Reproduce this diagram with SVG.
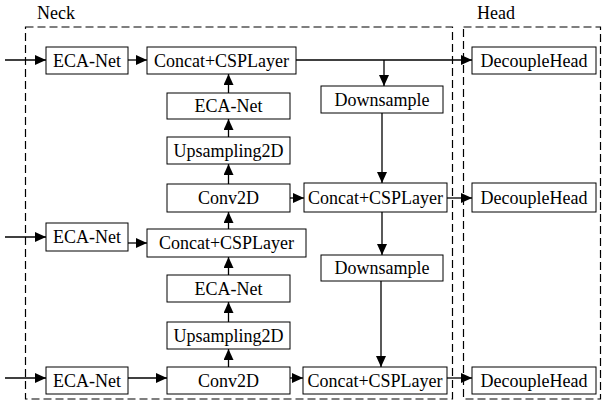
<svg xmlns="http://www.w3.org/2000/svg" width="602" height="402" viewBox="0 0 602 402">
<style>
.box{fill:#fff;stroke:#000;stroke-width:1}
.t{font-family:"Liberation Serif","Times New Roman",serif;font-size:18px;fill:#000;text-anchor:middle}
.lbl{font-family:"Liberation Serif","Times New Roman",serif;font-size:18px;fill:#000}
.c{fill:none;stroke:#000;stroke-width:1.3}
.dash{fill:none;stroke:#000;stroke-width:1.2;stroke-dasharray:8 4}
</style>
<defs>
<marker id="ah" markerUnits="userSpaceOnUse" markerWidth="12" markerHeight="10" refX="11" refY="5" orient="auto">
<path d="M0,0 L11,5 L0,10 Z" fill="#000"/>
</marker>
</defs>
<rect fill="#fff" x="0" y="0" width="602" height="402"/>
<g id="neck-region">
<rect class="dash" x="25.5" y="27" width="427" height="372"/>
<text class="lbl" x="37" y="19">Neck</text>
</g>
<g id="head-region">
<rect class="dash" x="463.5" y="27" width="137" height="372"/>
<text class="lbl" x="477" y="19">Head</text>
</g>
<g id="connectors">
<path class="c" d="M5,60 H46" marker-end="url(#ah)"/>
<path class="c" d="M128,60 H147" marker-end="url(#ah)"/>
<path class="c" d="M296,60 H472" marker-end="url(#ah)"/>
<path class="c" d="M384,60 V86" marker-end="url(#ah)"/>
<path class="c" d="M382,113 V183" marker-end="url(#ah)"/>
<path class="c" d="M228.5,93 V74" marker-end="url(#ah)"/>
<path class="c" d="M228.5,137 V119" marker-end="url(#ah)"/>
<path class="c" d="M228.5,184 V164" marker-end="url(#ah)"/>
<path class="c" d="M290,198 H304" marker-end="url(#ah)"/>
<path class="c" d="M228.5,229 V212" marker-end="url(#ah)"/>
<path class="c" d="M5,237 H46" marker-end="url(#ah)"/>
<path class="c" d="M128,243 H147" marker-end="url(#ah)"/>
<path class="c" d="M228.5,275 V257" marker-end="url(#ah)"/>
<path class="c" d="M228.5,322 V302" marker-end="url(#ah)"/>
<path class="c" d="M228.5,367 V349" marker-end="url(#ah)"/>
<path class="c" d="M447,198 H472" marker-end="url(#ah)"/>
<path class="c" d="M382,212 V255" marker-end="url(#ah)"/>
<path class="c" d="M381,281 V367" marker-end="url(#ah)"/>
<path class="c" d="M5,378 H46" marker-end="url(#ah)"/>
<path class="c" d="M128,378 H167" marker-end="url(#ah)"/>
<path class="c" d="M290,378 H303" marker-end="url(#ah)"/>
<path class="c" d="M447,378 H472" marker-end="url(#ah)"/>
</g>
<g id="eca1"><rect class="box" x="46" y="47" width="82" height="27"/><text class="t" x="87" y="67">ECA-Net</text></g>
<g id="concat1"><rect class="box" x="147" y="47" width="149" height="27"/><text class="t" x="221.5" y="67">Concat+CSPLayer</text></g>
<g id="decouple1"><rect class="box" x="472" y="47" width="124" height="27"/><text class="t" x="534" y="67">DecoupleHead</text></g>
<g id="downsample1"><rect class="box" x="321" y="86" width="122" height="27"/><text class="t" x="382" y="106">Downsample</text></g>
<g id="eca-top"><rect class="box" x="167" y="93" width="123" height="26"/><text class="t" x="228.5" y="112">ECA-Net</text></g>
<g id="upsampling1"><rect class="box" x="167" y="137" width="123" height="27"/><text class="t" x="228.5" y="157">Upsampling2D</text></g>
<g id="conv2d-top"><rect class="box" x="167" y="184" width="123" height="28"/><text class="t" x="228.5" y="204">Conv2D</text></g>
<g id="concat2"><rect class="box" x="304" y="183" width="143" height="29"/><text class="t" x="375.5" y="204">Concat+CSPLayer</text></g>
<g id="decouple2"><rect class="box" x="472" y="183" width="124" height="29"/><text class="t" x="534" y="204">DecoupleHead</text></g>
<g id="eca2"><rect class="box" x="46" y="223" width="82" height="28"/><text class="t" x="87" y="243">ECA-Net</text></g>
<g id="concat-mid"><rect class="box" x="147" y="229" width="159" height="28"/><text class="t" x="226.5" y="249">Concat+CSPLayer</text></g>
<g id="downsample2"><rect class="box" x="321" y="255" width="122" height="26"/><text class="t" x="382" y="274">Downsample</text></g>
<g id="eca-bottom"><rect class="box" x="167" y="275" width="123" height="27"/><text class="t" x="228.5" y="295">ECA-Net</text></g>
<g id="upsampling2"><rect class="box" x="167" y="322" width="123" height="27"/><text class="t" x="228.5" y="342">Upsampling2D</text></g>
<g id="conv2d-bottom"><rect class="box" x="167" y="367" width="123" height="27"/><text class="t" x="228.5" y="387">Conv2D</text></g>
<g id="eca3"><rect class="box" x="46" y="367" width="82" height="27"/><text class="t" x="87" y="387">ECA-Net</text></g>
<g id="concat3"><rect class="box" x="303" y="367" width="144" height="27"/><text class="t" x="375" y="387">Concat+CSPLayer</text></g>
<g id="decouple3"><rect class="box" x="472" y="367" width="124" height="27"/><text class="t" x="534" y="387">DecoupleHead</text></g>
</svg>
